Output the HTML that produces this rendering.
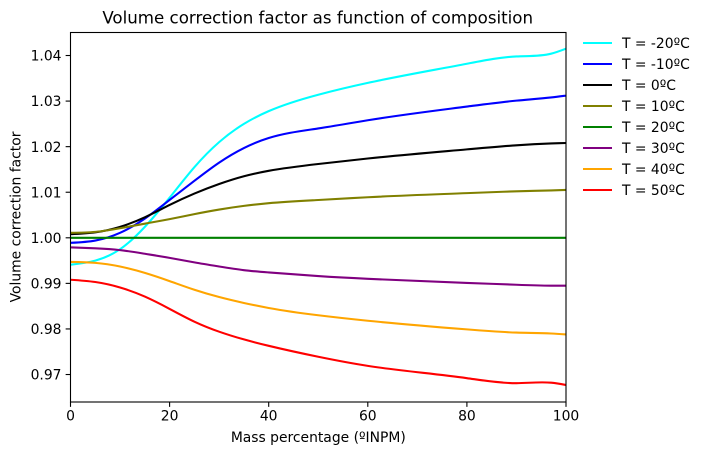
<!DOCTYPE html>
<html>
<head>
<meta charset="utf-8">
<style>
html,body{margin:0;padding:0;background:#fff;}
svg{display:block;}
text{font-family:"DejaVu Sans",sans-serif;fill:#000;}
</style>
</head>
<body>
<svg id="chart" xmlns="http://www.w3.org/2000/svg" width="705" height="455" viewBox="0 0 705 455">
<defs><clipPath id="plot-clip"><rect x="70.5" y="32.5" width="495.5" height="369.5"/></clipPath></defs>
<text x="317.7" y="23.5" font-size="16.67" text-anchor="middle">Volume correction factor as function of composition</text>
<text x="318.3" y="442" font-size="13.89" text-anchor="middle">Mass percentage (ºINPM)</text>
<text transform="translate(20.5,217) rotate(-90)" font-size="13.89" text-anchor="middle">Volume correction factor</text>
<g id="series" clip-path="url(#plot-clip)"></g>
<g id="axes"></g>
<g id="legend"></g>
</svg>
<script>
const xTicks = [0, 20, 40, 60, 80, 100];
const yTicks = [0.97, 0.98, 0.99, 1.00, 1.01, 1.02, 1.03, 1.04];
const composition = [0, 5, 10, 15, 20, 25, 30, 35, 40, 50, 60, 80, 90, 97, 100];
const seriesLabels = ['T = -20ºC', 'T = -10ºC', 'T = 0ºC', 'T = 10ºC', 'T = 20ºC', 'T = 30ºC', 'T = 40ºC', 'T = 50ºC'];
const seriesColors = ['#00ffff', '#0000ff', '#000000', '#808000', '#008000', '#800080', '#ffa500', '#ff0000'];
const tMinus20 = [0.9941, 0.9950, 0.9975, 1.0024, 1.0088, 1.0155, 1.0210, 1.0250, 1.0278, 1.0314, 1.0340, 1.0382, 1.0398, 1.0404, 1.0415];
const tMinus10 = [0.9989, 0.9994, 1.0011, 1.0042, 1.0083, 1.0125, 1.0165, 1.0197, 1.0219, 1.0240, 1.0258, 1.0288, 1.0301, 1.0308, 1.0312];
const t0 = [1.0008, 1.0012, 1.0024, 1.0045, 1.0072, 1.0097, 1.0118, 1.0135, 1.0147, 1.0162, 1.0174, 1.0194, 1.0203, 1.0207, 1.0208];
const t10 = [1.0011, 1.0013, 1.0021, 1.0031, 1.0041, 1.0052, 1.0062, 1.0070, 1.0076, 1.0083, 1.0089, 1.0098, 1.0102, 1.0104, 1.0105];
const t20 = [1, 1, 1, 1, 1, 1, 1, 1, 1, 1, 1, 1, 1, 1, 1];
const t30 = [0.9979, 0.9977, 0.9973, 0.9965, 0.9956, 0.9946, 0.9937, 0.9929, 0.9924, 0.9916, 0.9910, 0.9901, 0.9897, 0.9895, 0.9895];
const t40 = [0.9947, 0.9945, 0.9937, 0.9923, 0.9905, 0.9886, 0.9870, 0.9857, 0.9846, 0.9830, 0.9818, 0.9799, 0.9792, 0.9790, 0.9788];
const t50 = [0.9908, 0.9903, 0.9891, 0.9871, 0.9844, 0.9816, 0.9794, 0.9777, 0.9763, 0.9739, 0.9719, 0.9692, 0.9681, 0.9682, 0.9677];
const seriesValues = [tMinus20, tMinus10, t0, t10, t20, t30, t40, t50];

const NS = 'http://www.w3.org/2000/svg';
const left = 70.5, right = 566, top_ = 32.5, bottom = 402;
const xMin = 0, xMax = 100, yMin = 0.96397, yMax = 1.04505;
function xScale(v) { return left + (v - xMin) / (xMax - xMin) * (right - left); }
function yScale(v) { return bottom - (v - yMin) / (yMax - yMin) * (bottom - top_); }
function make(tag, attrs, parent) {
  const el = document.createElementNS(NS, tag);
  for (const k in attrs) el.setAttribute(k, attrs[k]);
  parent.appendChild(el);
  return el;
}
function smoothPath(xs, ys) {
  const n = xs.length, px = xs.map(xScale), py = ys.map(yScale);
  const h = [], M = new Array(n).fill(0), c = new Array(n).fill(0), d2 = new Array(n).fill(0);
  for (let i = 0; i < n - 1; i++) h.push(px[i + 1] - px[i]);
  for (let i = 1; i < n - 1; i++) {
    const rhs = 6 * ((py[i + 1] - py[i]) / h[i] - (py[i] - py[i - 1]) / h[i - 1]);
    const den = 2 * (h[i - 1] + h[i]) - h[i - 1] * c[i - 1];
    c[i] = h[i] / den;
    d2[i] = (rhs - h[i - 1] * d2[i - 1]) / den;
  }
  for (let i = n - 2; i > 0; i--) M[i] = d2[i] - c[i] * M[i + 1];
  let d = 'M' + px[0].toFixed(2) + ' ' + py[0].toFixed(2);
  for (let i = 0; i < n - 1; i++) {
    const s = (py[i + 1] - py[i]) / h[i];
    const m0 = s - h[i] * (2 * M[i] + M[i + 1]) / 6;
    const m1 = s + h[i] * (M[i] + 2 * M[i + 1]) / 6;
    const t = h[i] / 3;
    d += 'C' + (px[i] + t).toFixed(2) + ' ' + (py[i] + t * m0).toFixed(2) + ' ' +
      (px[i + 1] - t).toFixed(2) + ' ' + (py[i + 1] - t * m1).toFixed(2) + ' ' +
      px[i + 1].toFixed(2) + ' ' + py[i + 1].toFixed(2);
  }
  return d;
}

const seriesGroup = document.getElementById('series');
const axesGroup = document.getElementById('axes');
const legendGroup = document.getElementById('legend');

seriesValues.forEach(function (vals, i) {
  const line = make('path', { d: smoothPath(composition, vals), fill: 'none', stroke: seriesColors[i], 'stroke-width': 2.08 }, seriesGroup);
  
  
});

const frame = make('rect', { x: left, y: top_, width: right - left, height: bottom - top_, fill: 'none', stroke: '#000', 'stroke-width': 1.1 }, axesGroup);



xTicks.forEach(function (t) {
  const x = xScale(t);
  const mark = make('line', { x1: x, x2: x, y1: bottom, y2: bottom + 4.86, stroke: '#000', 'stroke-width': 1.1 }, axesGroup);
  
  
  const label = make('text', { x: x, y: 420.5, 'font-size': 13.89, 'text-anchor': 'middle' }, axesGroup);
  label.textContent = String(t);
  
  
});

yTicks.forEach(function (t) {
  const y = yScale(t);
  const mark = make('line', { x1: left - 4.86, x2: left, y1: y, y2: y, stroke: '#000', 'stroke-width': 1.1 }, axesGroup);
  
  
  const label = make('text', { x: 61.5, y: y + 5.1, 'font-size': 13.89, 'text-anchor': 'end' }, axesGroup);
  label.textContent = t.toFixed(2);
  
  
});

seriesLabels.forEach(function (name, i) {
  const y = 43 + i * 21;
  const key = make('line', { x1: 583, x2: 612, y1: y, y2: y, stroke: seriesColors[i], 'stroke-width': 2.08 }, legendGroup);
  
  
  const label = make('text', { x: 622, y: y + 5, 'font-size': 13.89 }, legendGroup);
  label.textContent = name;
  
  
});
</script>
</body>
</html>
